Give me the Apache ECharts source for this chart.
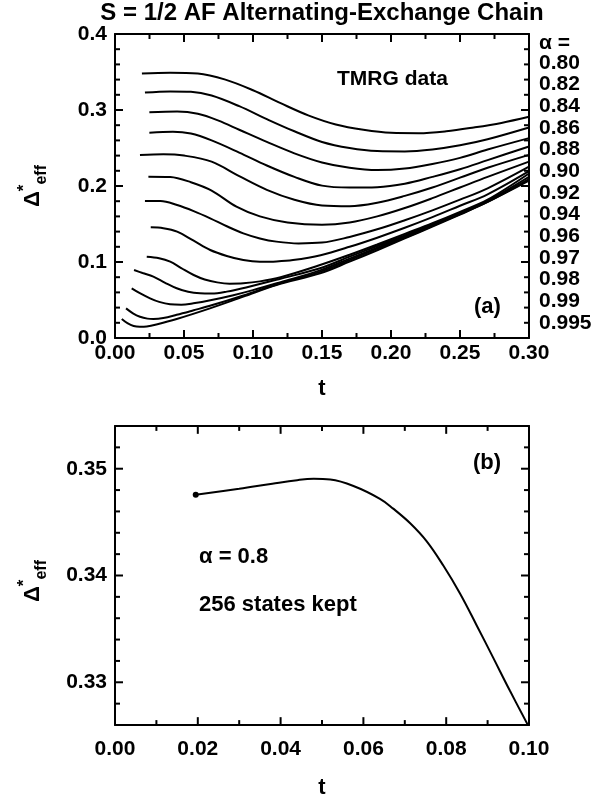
<!DOCTYPE html>
<html><head><meta charset="utf-8">
<script src="https://cdn.jsdelivr.net/npm/echarts@6/dist/echarts.min.js"></script>
<style>html,body{margin:0;padding:0;background:#fff}#c{width:611px;height:800px}</style>
</head><body><div id="c"></div>
<script>
// ---------- data: panel (a), pairs [t, Delta*_eff] ----------
const a080 = [[0.0195,0.348],[0.04,0.349],[0.06,0.348],[0.08,0.340],[0.10,0.326],[0.12,0.309],[0.14,0.293],[0.16,0.281],[0.18,0.274],[0.20,0.270],[0.22,0.2695],[0.24,0.272],[0.26,0.277],[0.28,0.283],[0.30,0.291]];
const a082 = [[0.0217,0.323],[0.04,0.3245],[0.055,0.324],[0.07,0.319],[0.09,0.305],[0.11,0.288],[0.13,0.272],[0.15,0.258],[0.17,0.250],[0.19,0.246],[0.21,0.2455],[0.23,0.248],[0.25,0.2535],[0.27,0.2615],[0.30,0.277]];
const a084 = [[0.0249,0.297],[0.045,0.298],[0.06,0.295],[0.075,0.286],[0.09,0.274],[0.11,0.258],[0.13,0.243],[0.15,0.231],[0.17,0.224],[0.19,0.221],[0.21,0.223],[0.23,0.229],[0.25,0.237],[0.27,0.248],[0.30,0.263]];
const a086 = [[0.0249,0.2702],[0.042,0.2715],[0.055,0.269],[0.07,0.260],[0.09,0.244],[0.11,0.227],[0.13,0.212],[0.15,0.2005],[0.17,0.198],[0.19,0.1985],[0.21,0.203],[0.23,0.212],[0.25,0.222],[0.27,0.234],[0.30,0.252]];
const a088 = [[0.0181,0.2408],[0.035,0.2417],[0.05,0.240],[0.07,0.232],[0.09,0.213],[0.11,0.195],[0.13,0.182],[0.15,0.1745],[0.17,0.1735],[0.19,0.178],[0.21,0.187],[0.23,0.198],[0.25,0.211],[0.27,0.224],[0.30,0.241]];
const a090 = [[0.0242,0.2123],[0.04,0.2118],[0.055,0.205],[0.07,0.194],[0.088,0.1728],[0.105,0.160],[0.125,0.152],[0.15,0.149],[0.17,0.152],[0.19,0.160],[0.21,0.171],[0.23,0.184],[0.25,0.198],[0.27,0.212],[0.30,0.232]];
const a092 = [[0.0217,0.1803],[0.033,0.1803],[0.045,0.175],[0.057,0.167],[0.069,0.1575],[0.081,0.147],[0.093,0.1377],[0.105,0.131],[0.117,0.1268],[0.133,0.1245],[0.15,0.1255],[0.17,0.133],[0.19,0.143],[0.21,0.155],[0.23,0.168],[0.25,0.182],[0.27,0.197],[0.30,0.2255]];
const a094 = [[0.0259,0.1456],[0.035,0.1445],[0.045,0.140],[0.057,0.128],[0.069,0.1158],[0.081,0.108],[0.093,0.1026],[0.105,0.1004],[0.117,0.1008],[0.129,0.1026],[0.149,0.109],[0.17,0.120],[0.19,0.132],[0.21,0.145],[0.23,0.159],[0.25,0.174],[0.27,0.189],[0.30,0.2195]];
const a096 = [[0.023,0.107],[0.032,0.105],[0.040,0.1004],[0.048,0.092],[0.057,0.0829],[0.065,0.077],[0.074,0.0732],[0.083,0.0715],[0.093,0.072],[0.105,0.0745],[0.12,0.080],[0.1486,0.096],[0.17,0.1095],[0.19,0.123],[0.21,0.137],[0.23,0.151],[0.25,0.166],[0.27,0.182],[0.30,0.2165]];
const a097 = [[0.0138,0.0895],[0.02,0.0855],[0.0278,0.0807],[0.036,0.073],[0.0447,0.0654],[0.053,0.0608],[0.0616,0.0588],[0.07,0.0585],[0.081,0.061],[0.095,0.0665],[0.12,0.078],[0.1486,0.0917],[0.17,0.107],[0.19,0.121],[0.21,0.135],[0.23,0.1495],[0.25,0.1645],[0.27,0.1805],[0.30,0.212]];
const a098 = [[0.0121,0.0654],[0.018,0.059],[0.0254,0.0522],[0.032,0.0475],[0.0399,0.0443],[0.048,0.0437],[0.0568,0.0456],[0.07,0.050],[0.085,0.056],[0.10,0.063],[0.12,0.0735],[0.1486,0.089],[0.17,0.1045],[0.19,0.119],[0.21,0.1335],[0.23,0.148],[0.25,0.163],[0.27,0.179],[0.30,0.209]];
const a099 = [[0.008,0.039],[0.013,0.0325],[0.0181,0.028],[0.0235,0.0255],[0.0278,0.025],[0.035,0.0262],[0.0447,0.0305],[0.057,0.0365],[0.07,0.043],[0.093,0.056],[0.117,0.0705],[0.1486,0.087],[0.17,0.1025],[0.19,0.1175],[0.21,0.132],[0.23,0.1475],[0.25,0.1635],[0.27,0.180],[0.30,0.208]];
const a0995 = [[0.0049,0.025],[0.009,0.0195],[0.0135,0.0158],[0.018,0.0148],[0.023,0.0152],[0.03,0.0178],[0.0447,0.025],[0.0688,0.039],[0.093,0.0544],[0.117,0.0697],[0.1486,0.085],[0.17,0.1005],[0.19,0.1155],[0.21,0.131],[0.23,0.1465],[0.25,0.1625],[0.27,0.179],[0.30,0.207]];
const alphaLabels = ['0.80','0.82','0.84','0.86','0.88','0.90','0.92','0.94','0.96','0.97','0.98','0.99','0.995'];
const curvesA = [a080,a082,a084,a086,a088,a090,a092,a094,a096,a097,a098,a099,a0995];

// ---------- data: panel (b), alpha = 0.8 ----------
const tB = [0.0195,0.0300,0.0380,0.0440,0.0480,0.0520,0.0576,0.0640,0.0672,0.0713,0.0753,0.0793,0.0833,0.0874,0.0914,0.0954,0.1000];
const dB = [0.34756,0.34812,0.34860,0.34893,0.34905,0.34898,0.34838,0.34718,0.34626,0.34489,0.34320,0.34093,0.33834,0.33530,0.33226,0.32920,0.32580];

// ---------- axis ticks ----------
const xTicksA = [0.00,0.05,0.10,0.15,0.20,0.25,0.30];
const xMinorA = [0.025,0.075,0.125,0.175,0.225,0.275];
const yTicksA = [0.0,0.1,0.2,0.3,0.4];
const yMinorA = [0.02,0.04,0.06,0.08,0.12,0.14,0.16,0.18,0.22,0.24,0.26,0.28,0.32,0.34,0.36,0.38];
const xTicksB = [0.00,0.02,0.04,0.06,0.08,0.10];
const xMinorB = [0.01,0.03,0.05,0.07,0.09];
const yTicksB = [0.33,0.34,0.35];
const yMinorB = [0.328,0.332,0.334,0.336,0.338,0.342,0.344,0.346,0.348,0.352];
const yRangeB = [0.326,0.354];

const FONT = "'Liberation Sans', Arial, Helvetica, sans-serif";
const K = '#000';
const GRID_A = {left:115, top:34, width:414, height:304};
const GRID_B = {left:115, top:426, width:414, height:305};
const AXLINE = () => ({show:true, onZero:false, lineStyle:{color:K, width:2}});
const LBL = (dec, margin) => ({show:true, margin:margin, color:K, fontFamily:FONT, fontWeight:'bold', fontSize:21,
  formatter:v=>Number(v).toFixed(dec)});
const NAME = () => ({color:K, fontFamily:FONT, fontWeight:'bold', fontSize:22});
const NOTICK = () => ({show:false});

const xAxes = [
  {type:'value', gridIndex:0, position:'bottom', min:xTicksA[0], max:xTicksA[6], interval:0.05, splitLine:{show:false},
    axisLine:AXLINE(), axisTick:NOTICK(), axisLabel:LBL(2,5),
    name:'t', nameLocation:'middle', nameGap:40, nameTextStyle:NAME()},
  {type:'value', gridIndex:0, position:'top', min:xTicksA[0], max:xTicksA[6], interval:0.05, splitLine:{show:false},
    axisLine:AXLINE(), axisTick:NOTICK(), axisLabel:{show:false}},
  {type:'value', gridIndex:1, position:'bottom', min:xTicksB[0], max:xTicksB[5], interval:0.02, splitLine:{show:false},
    axisLine:AXLINE(), axisTick:NOTICK(), axisLabel:LBL(2,14),
    name:'t', nameLocation:'middle', nameGap:52, nameTextStyle:NAME()},
  {type:'value', gridIndex:1, position:'top', min:xTicksB[0], max:xTicksB[5], interval:0.02, splitLine:{show:false},
    axisLine:AXLINE(), axisTick:NOTICK(), axisLabel:{show:false}}
];
const yAxes = [
  {type:'value', gridIndex:0, position:'left', min:yTicksA[0], max:yTicksA[4], interval:0.1, splitLine:{show:false},
    axisLine:AXLINE(), axisTick:NOTICK(), axisLabel:LBL(1,8)},
  {type:'value', gridIndex:0, position:'right', min:yTicksA[0], max:yTicksA[4], interval:0.1, splitLine:{show:false},
    axisLine:AXLINE(), axisTick:NOTICK(), axisLabel:{show:false}},
  {type:'value', gridIndex:1, position:'left', min:yRangeB[0], max:yRangeB[1], splitLine:{show:false},
    axisLine:AXLINE(), axisTick:NOTICK(), axisLabel:Object.assign(LBL(2,8), {customValues:yTicksB})},
  {type:'value', gridIndex:1, position:'right', min:yRangeB[0], max:yRangeB[1], splitLine:{show:false},
    axisLine:AXLINE(), axisTick:NOTICK(), axisLabel:{show:false}}
];

// inside tick marks on all four sides, drawn as short line series through the axes' scales
function tickLines(xIdx, yIdx, xr, yr, g, xMaj, xMin, yMaj, yMin){
  const dx = (xr[1]-xr[0]) / g.width, dy = (yr[1]-yr[0]) / g.height;
  const out = [];
  const add = (p, q) => out.push({type:'line', xAxisIndex:xIdx, yAxisIndex:yIdx, data:[p, q],
    showSymbol:false, silent:true, clip:false, z:3, lineStyle:{color:K, width:2}, itemStyle:{color:K}});
  xMaj.concat(xMin).forEach((v,i)=>{ const L = (i < xMaj.length ? 8 : 5) * dy;
    add([v, yr[0]], [v, yr[0]+L]); add([v, yr[1]], [v, yr[1]-L]); });
  yMaj.concat(yMin).forEach((v,i)=>{ const L = (i < yMaj.length ? 8 : 5) * dx;
    add([xr[0], v], [xr[0]+L, v]); add([xr[1], v], [xr[1]-L, v]); });
  return out;
}

let series = curvesA.map((c,i)=>({
  type:'line', name:alphaLabels[i], xAxisIndex:0, yAxisIndex:0, data:c, smooth:0.35,
  showSymbol:false, lineStyle:{color:K,width:2}, itemStyle:{color:K}
}));
series.push({type:'line', name:'b', xAxisIndex:2, yAxisIndex:2, data:tB.map((t,i)=>[t,dB[i]]), smooth:0.4,
  showSymbol:false, lineStyle:{color:K,width:2}, itemStyle:{color:K}});
series.push({type:'line', name:'b0', xAxisIndex:2, yAxisIndex:2, data:[[tB[0],dB[0]]], showSymbol:true,
  symbol:'circle', symbolSize:6, itemStyle:{color:K}, lineStyle:{width:0}});
series = series.concat(
  tickLines(0,0,[xTicksA[0],xTicksA[6]],[yTicksA[0],yTicksA[4]],GRID_A,xTicksA.slice(1,-1),xMinorA,yTicksA.slice(1,-1),yMinorA),
  tickLines(2,2,[xTicksB[0],xTicksB[5]],yRangeB,GRID_B,xTicksB.slice(1,-1),xMinorB,yTicksB,yMinorB));

const txt = (x,y,text,size,align) => ({type:'text', x:x, y:y,
  style:{text:text, fill:K, font:'bold '+size+'px '+FONT, textAlign:align||'left', textVerticalAlign:'middle'}});

const graphics = [
  txt(322,13,'S = 1/2 AF Alternating-Exchange Chain',24,'center'),
  txt(337,79,'TMRG data',21,'left'),
  txt(474,307,'(a)',22,'left'),
  txt(473,463,'(b)',22,'left'),
  txt(199,557,'α = 0.8',22,'left'),
  txt(199,605,'256 states kept',22,'left'),
  txt(539,43,'α =',21,'left')
];
alphaLabels.forEach((a,i)=>graphics.push(txt(539,63+i*21.67,a,21,'left')));
function yName(cx,cy){
  return {type:'text', x:cx, y:cy, rotation:Math.PI/2,
    style:{text:'{d|Δ}{s|*}{e|eff}', textAlign:'center', textVerticalAlign:'middle',
      rich:{
        d:{fontFamily:FONT,fontWeight:'bold',fontSize:22,fill:K,lineHeight:34,verticalAlign:'middle'},
        s:{fontFamily:FONT,fontWeight:'bold',fontSize:17,fill:K,lineHeight:34,verticalAlign:'top'},
        e:{fontFamily:FONT,fontWeight:'bold',fontSize:16,fill:K,lineHeight:34,verticalAlign:'bottom'}
      }}};
}
graphics.push(yName(33,186));
graphics.push(yName(33,581));

const chart = echarts.init(document.getElementById('c'), null, {renderer:'canvas'});
chart.setOption({
  animation:false, backgroundColor:'#fff',
  grid:[Object.assign({}, GRID_A), Object.assign({}, GRID_B)],
  xAxis:xAxes, yAxis:yAxes, series:series, graphic:graphics
});
</script></body></html>
